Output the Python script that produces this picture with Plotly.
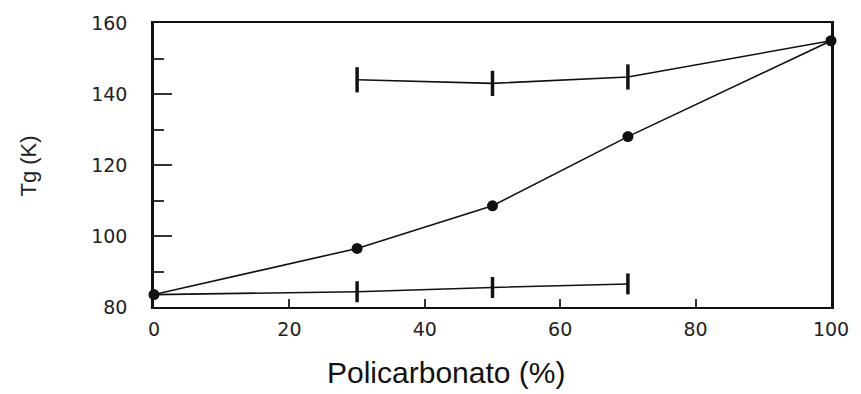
import plotly.graph_objects as go

# Glass transition temperature vs. polycarbonate content
pc_mix = [0, 30, 50, 70, 100]
tg_mix = [83.5, 96.5, 108.5, 128, 155]

pc_upper = [30, 50, 70, 100]
tg_upper = [144, 143, 144.8, 155]

pc_lower = [0, 30, 50, 70]
tg_lower = [83.5, 84.3, 85.5, 86.5]

x_ticks = [0, 20, 40, 60, 80, 100]
y_ticks = [80, 100, 120, 140, 160]

INK = "#111111"
tick_font = dict(family="DejaVu Sans", size=19, color="#222222")

fig = go.Figure()

# middle curve with filled circles
fig.add_trace(go.Scatter(
    x=pc_mix, y=tg_mix, mode="lines+markers",
    line=dict(color=INK, width=1.6),
    marker=dict(symbol="circle", size=11, color=INK),
    cliponaxis=False, showlegend=False,
))

# upper branch with bar markers (skip bar on the 100% point)
fig.add_trace(go.Scatter(
    x=pc_upper, y=tg_upper, mode="lines",
    line=dict(color=INK, width=1.6),
    cliponaxis=False, showlegend=False,
))
fig.add_trace(go.Scatter(
    x=pc_upper[:-1], y=tg_upper[:-1], mode="markers",
    marker=dict(symbol="line-ns", size=18, line=dict(color=INK, width=3.5)),
    cliponaxis=False, showlegend=False,
))

# lower branch with bar markers
fig.add_trace(go.Scatter(
    x=pc_lower, y=tg_lower, mode="lines",
    line=dict(color=INK, width=1.6),
    cliponaxis=False, showlegend=False,
))
fig.add_trace(go.Scatter(
    x=pc_lower[1:], y=tg_lower[1:], mode="markers",
    marker=dict(symbol="line-ns", size=15, line=dict(color=INK, width=3.5)),
    cliponaxis=False, showlegend=False,
))

fig.update_layout(
    width=861, height=394,
    margin=dict(l=154, r=23, t=16, b=87),
    paper_bgcolor="white", plot_bgcolor="white",
    xaxis=dict(
        range=[0, 100], tickvals=x_ticks, ticktext=[str(v) for v in x_ticks],
        ticks="inside", ticklen=8, tickwidth=2, tickcolor="#333333",
        showline=True, linecolor=INK, linewidth=1.6, mirror=True,
        showgrid=False, zeroline=False, tickfont=tick_font,
        ticklabelstandoff=4,
    ),
    yaxis=dict(
        range=[80, 160], tickvals=y_ticks, ticktext=[str(v) for v in y_ticks],
        ticks="inside", ticklen=18, tickwidth=1.6, tickcolor="#333333",
        minor=dict(dtick=10, tick0=80, ticks="inside", ticklen=10,
                   tickwidth=1.6, tickcolor="#333333"),
        showline=True, linecolor=INK, linewidth=2.6, mirror=True,
        showgrid=False, zeroline=False, tickfont=tick_font,
        ticklabelstandoff=20,
    ),
    annotations=[
        dict(text="Tg (K)", textangle=-90, showarrow=False,
             xref="paper", yref="paper", x=-0.186, y=0.495,
             xanchor="center", yanchor="middle",
             font=dict(family="Liberation Sans Narrow, Liberation Sans", size=22, color="#222222")),
        dict(text="Policarbonato (%)", showarrow=False,
             xref="paper", yref="paper", x=0.431, y=-0.230,
             xanchor="center", yanchor="middle",
             font=dict(family="Liberation Sans, Arial", size=30, color="#111111")),
    ],
)

fig.write_html("out.html")
